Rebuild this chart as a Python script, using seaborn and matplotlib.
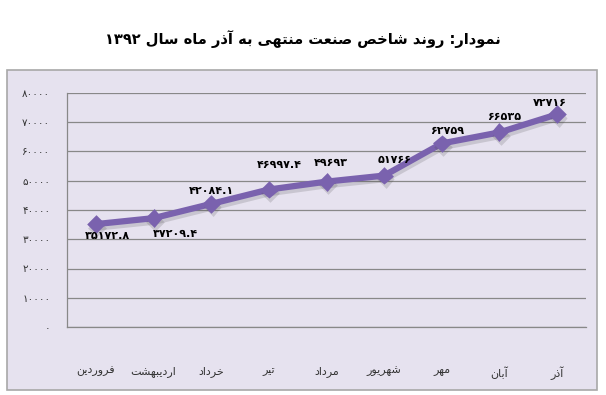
import numpy as np
import pandas as pd

import matplotlib
matplotlib.use("Agg")
import matplotlib.pyplot as plt
import matplotlib.patheffects as pe
from matplotlib.patches import Rectangle
import seaborn as sns

sns.set_style("white")
plt.rcParams["font.family"] = ["DejaVu Sans"]


# data
months = ["فروردین", "اردیبهشت", "خرداد", "تیر", "مرداد",
          "شهریور", "مهر", "آبان", "آذر"]
index_values = [35172.8, 37209.4, 42084.1, 46997.4, 49693,
                51766, 62759, 66535, 72716]
value_labels = ["۳۵۱۷۲.۸", "۳۷۲۰۹.۴", "۴۲۰۸۴.۱", "۴۶۹۹۷.۴", "۴۹۶۹۳",
                "۵۱۷۶۶", "۶۲۷۵۹", "۶۶۵۳۵", "۷۲۷۱۶"]
y_ticks = [0, 10000, 20000, 30000, 40000, 50000, 60000, 70000, 80000]
y_tick_labels = ["۰", "۱۰۰۰۰", "۲۰۰۰۰", "۳۰۰۰۰", "۴۰۰۰۰",
                 "۵۰۰۰۰", "۶۰۰۰۰", "۷۰۰۰۰", "۸۰۰۰۰"]
title = "نمودار: روند شاخص صنعت منتهی به آذر ماه سال ۱۳۹۲"

# label offsets in pixels (right, up)
label_offsets = [(12, -12), (22, -16), (0, 13), (10, 25), (4, 19),
                 (10, 16), (5, 12), (5, 15), (-7, 11)]


# %%
# tiny arabic shaper: iso, fin, ini, med (None = right-joining only)
FORMS = {
    "ا": ("\uFE8D", "\uFE8E", None, None),
    "آ": ("\uFE81", "\uFE82", None, None),
    "ب": ("\uFE8F", "\uFE90", "\uFE91", "\uFE92"),
    "ت": ("\uFE95", "\uFE96", "\uFE97", "\uFE98"),
    "خ": ("\uFEA5", "\uFEA6", "\uFEA7", "\uFEA8"),
    "د": ("\uFEA9", "\uFEAA", None, None),
    "ذ": ("\uFEAB", "\uFEAC", None, None),
    "ر": ("\uFEAD", "\uFEAE", None, None),
    "س": ("\uFEB1", "\uFEB2", "\uFEB3", "\uFEB4"),
    "ش": ("\uFEB5", "\uFEB6", "\uFEB7", "\uFEB8"),
    "ص": ("\uFEB9", "\uFEBA", "\uFEBB", "\uFEBC"),
    "ع": ("\uFEC9", "\uFECA", "\uFECB", "\uFECC"),
    "ف": ("\uFED1", "\uFED2", "\uFED3", "\uFED4"),
    "ل": ("\uFEDD", "\uFEDE", "\uFEDF", "\uFEE0"),
    "م": ("\uFEE1", "\uFEE2", "\uFEE3", "\uFEE4"),
    "ن": ("\uFEE5", "\uFEE6", "\uFEE7", "\uFEE8"),
    "ه": ("\uFEE9", "\uFEEA", "\uFEEB", "\uFEEC"),
    "و": ("\uFEED", "\uFEEE", None, None),
    "ی": ("\uFBFC", "\uFBFD", "\uFBFE", "\uFBFF"),
}


def farsi(text):
    out = []
    for word in text.split(" "):
        if any(ch in FORMS for ch in word):
            shaped = []
            for i, ch in enumerate(word):
                if ch not in FORMS:
                    shaped.append(ch)
                    continue
                f = FORMS[ch]
                prev = word[i - 1] if i > 0 else ""
                nxt = word[i + 1] if i + 1 < len(word) else ""
                join_prev = prev in FORMS and FORMS[prev][2] is not None
                join_next = nxt in FORMS and f[2] is not None
                if join_prev and join_next:
                    shaped.append(f[3])
                elif join_prev:
                    shaped.append(f[1])
                elif join_next:
                    shaped.append(f[2])
                else:
                    shaped.append(f[0])
            word = "".join(reversed(shaped))
        out.append(word)
    return " ".join(reversed(out))


# %%
df = pd.DataFrame({"month": months, "value": index_values})

line_color = "#7A62AE"
bg_color = "#E6E2EF"

fig = plt.figure(figsize=(6.06, 3.95), dpi=100)
fig.patch.set_facecolor("white")

# chart box
box = Rectangle((7 / 606, 5 / 395), 590 / 606, 320 / 395,
                transform=fig.transFigure, facecolor=bg_color,
                edgecolor="#A8A8A8", linewidth=1.2, zorder=-5)
fig.patches.append(box)

fig.text(0.5, 1 - 39 / 395, farsi(title), ha="center", va="center",
         fontsize=10.5, fontweight="bold", color="black")

ax = fig.add_axes([67 / 606, 68 / 395, 519 / 606, 234 / 395])
ax.set_facecolor("none")
ax.set_zorder(1)

sns.pointplot(data=df, x="month", y="value", ax=ax, color=line_color,
              markers="D", markersize=6, linewidth=4.5, errorbar=None)

for ln in ax.lines:
    ln.set_path_effects([pe.SimpleLineShadow(offset=(1, -2.5), shadow_color="#444444", alpha=0.18),
                         pe.Normal()])
    ln.set_zorder(3)

for i, (val, lab) in enumerate(zip(index_values, value_labels)):
    dx, dy = label_offsets[i]
    ax.annotate(lab, (i, val), xytext=(dx, dy), textcoords="offset pixels",
                ha="center", va="center", fontsize=8, fontweight="bold",
                color="black", zorder=4)

ax.set_xlim(-0.5, len(months) - 0.5)
ax.set_ylim(0, 80000)
ax.set_yticks(y_ticks)
ax.set_yticklabels(y_tick_labels, fontsize=7.5, color="#333333")
ax.set_xticks(range(len(months)))
ax.set_xticklabels([farsi(m) for m in months], fontsize=8, color="#333333")
ax.set_xticks(np.arange(-0.5, len(months)), minor=True)
ax.tick_params(axis="x", which="major", length=0, pad=28)
ax.tick_params(axis="x", which="minor", length=4, color="#888888", direction="out")
ax.tick_params(axis="y", length=4, color="#888888", pad=8, direction="out")
ax.yaxis.grid(True, color="#888888", linewidth=0.9)
ax.set_axisbelow(True)
ax.set_xlabel("")
ax.set_ylabel("")

for side in ["top", "right"]:
    ax.spines[side].set_visible(False)
for side in ["left", "bottom"]:
    ax.spines[side].set_color("#888888")
    ax.spines[side].set_linewidth(0.9)

fig.savefig("out.png", dpi=100, facecolor="white")
